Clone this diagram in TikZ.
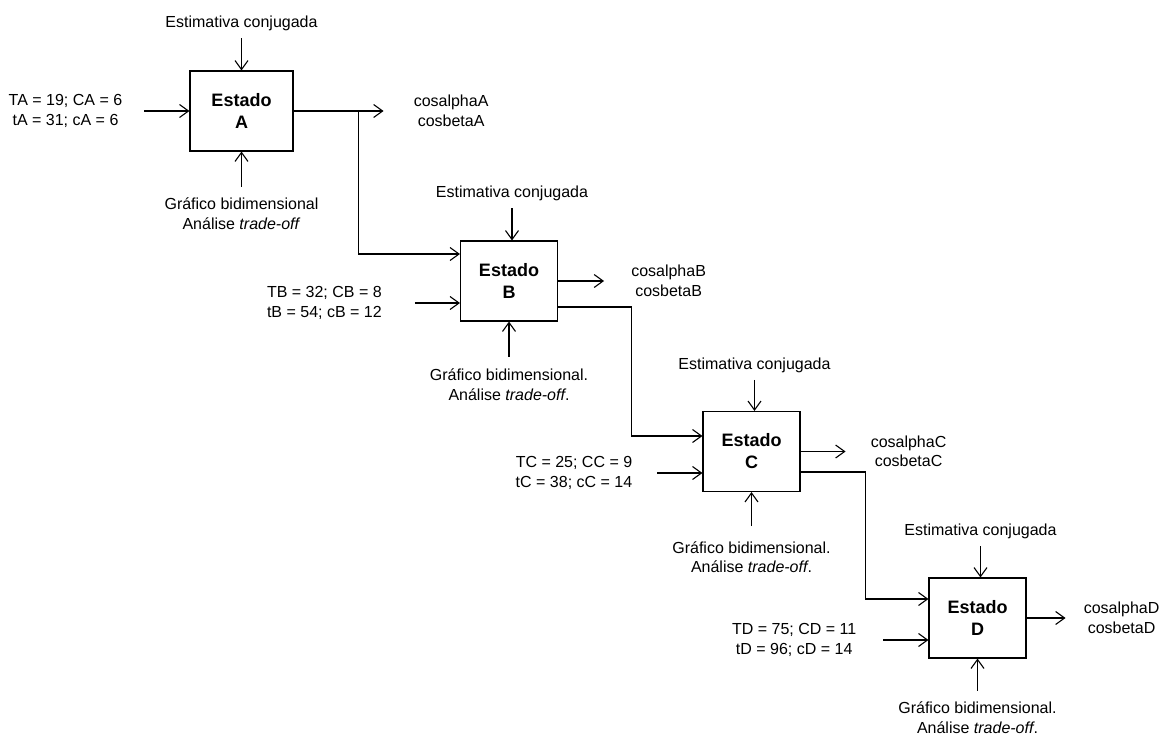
\documentclass[tikz,border=0pt]{standalone}
\usepackage{fontspec}
\setmainfont{Liberation Sans}
\usetikzlibrary{positioning,arrows.meta}
\tikzset{
    state/.style={
        rectangle,
        draw=black,
        line width=1.1pt,
        minimum width=97pt,
        minimum height=80pt,
        align=center,
        font=\fontsize{18}{22}\selectfont\bfseries
    },
    note/.style={
        inner sep=0pt,
        align=center,
        font=\fontsize{16}{19.5}\selectfont
    },
    arrow/.style={
        -{Straight Barb[length=9pt,width=13pt]},
        line width=1.1pt
    }
}

\begin{document}
\begin{tikzpicture}[x=1pt,y=-1pt]
    \useasboundingbox (0,0) rectangle (1168,737);
    % state A
    \node (A) [state, minimum width=103pt] at (241.5,111) {Estado\\A};
    \node (estA) [note, above=39pt of A] {Estimativa conjugada};
    \node (inA) [note, left=67pt of A] {TA = 19; CA = 6\\tA = 31; cA = 6};
    \node (grA) [note, below=46pt of A] {Gráfico bidimensional\\Análise \textit{trade-off}};
    \node (outA) [note, right=120pt of A] {cosalphaA\\cosbetaA};
    \draw [arrow, shorten <=7pt] (estA) -- (A);
    \draw [arrow, shorten <=22pt] (inA) -- (A);
    \draw [arrow, shorten <=11pt] (grA) -- (A);
    \draw [arrow, shorten >=30pt] (A) -- (outA);
    % state B
    \node (B) [state] at (509,281) {Estado\\B};
    \node (estB) [note, above=39pt of B, xshift=3pt] {Estimativa conjugada};
    \node (inB) [note, left=78pt of B, yshift=-22pt] {TB = 32; CB = 8\\tB = 54; cB = 12};
    \node (grB) [note, below=47pt of B] {Gráfico bidimensional.\\Análise \textit{trade-off}.};
    \node (outB) [note, right=73pt of B] {cosalphaB\\cosbetaB};
    \draw [arrow, shorten <=7pt] (estB) -- (estB |- B.north);
    \draw [arrow, shorten <=33pt] (inB.east) -- (inB.east -| B.west);
    \draw [arrow, shorten <=12pt] (grB) -- (B);
    \draw [arrow, shorten >=27pt] (B) -- (outB);
    % state C
    \node (C) [state] at (751.5,451.5) {Estado\\C};
    \node (estC) [note, above=38pt of C, xshift=3pt] {Estimativa conjugada};
    \node (inC) [note, left=70pt of C, yshift=-21.5pt] {TC = 25; CC = 9\\tC = 38; cC = 14};
    \node (grC) [note, below=49pt of C] {Gráfico bidimensional.\\Análise \textit{trade-off}.};
    \node (outC) [note, right=70pt of C] {cosalphaC\\cosbetaC};
    \draw [arrow, shorten <=7pt] (estC) -- (estC |- C.north);
    \draw [arrow, shorten <=25pt] (inC.east) -- (inC.east -| C.west);
    \draw [arrow, shorten <=15pt] (grC) -- (C);
    \draw [arrow, shorten >=25pt] (C) -- (outC);
    % state D
    \node (D) [state] at (977.5,618) {Estado\\D};
    \node (estD) [note, above=38pt of D, xshift=3pt] {Estimativa conjugada};
    \node (inD) [note, left=72pt of D, yshift=-22pt] {TD = 75; CD = 11\\tD = 96; cD = 14};
    \node (grD) [note, below=43pt of D] {Gráfico bidimensional.\\Análise \textit{trade-off}.};
    \node (outD) [note, right=57pt of D] {cosalphaD\\cosbetaD};
    \draw [arrow, shorten <=7pt] (estD) -- (estD |- D.north);
    \draw [arrow, shorten <=27pt] (inD.east) -- (inD.east -| D.west);
    \draw [arrow, shorten <=11pt] (grD) -- (D);
    \draw [arrow, shorten >=18pt] (D) -- (outD);
    % links between states
    \draw [arrow] (A.east) -- ++(65,0) |- ([yshift=27pt]B.west);
    \draw [arrow] ([yshift=-26pt]B.east) -- ++(73,0) |- ([yshift=15.5pt]C.west);
    \draw [arrow] ([yshift=-20.5pt]C.east) -- ++(65,0) |- ([yshift=19pt]D.west);
\end{tikzpicture}
\end{document}
